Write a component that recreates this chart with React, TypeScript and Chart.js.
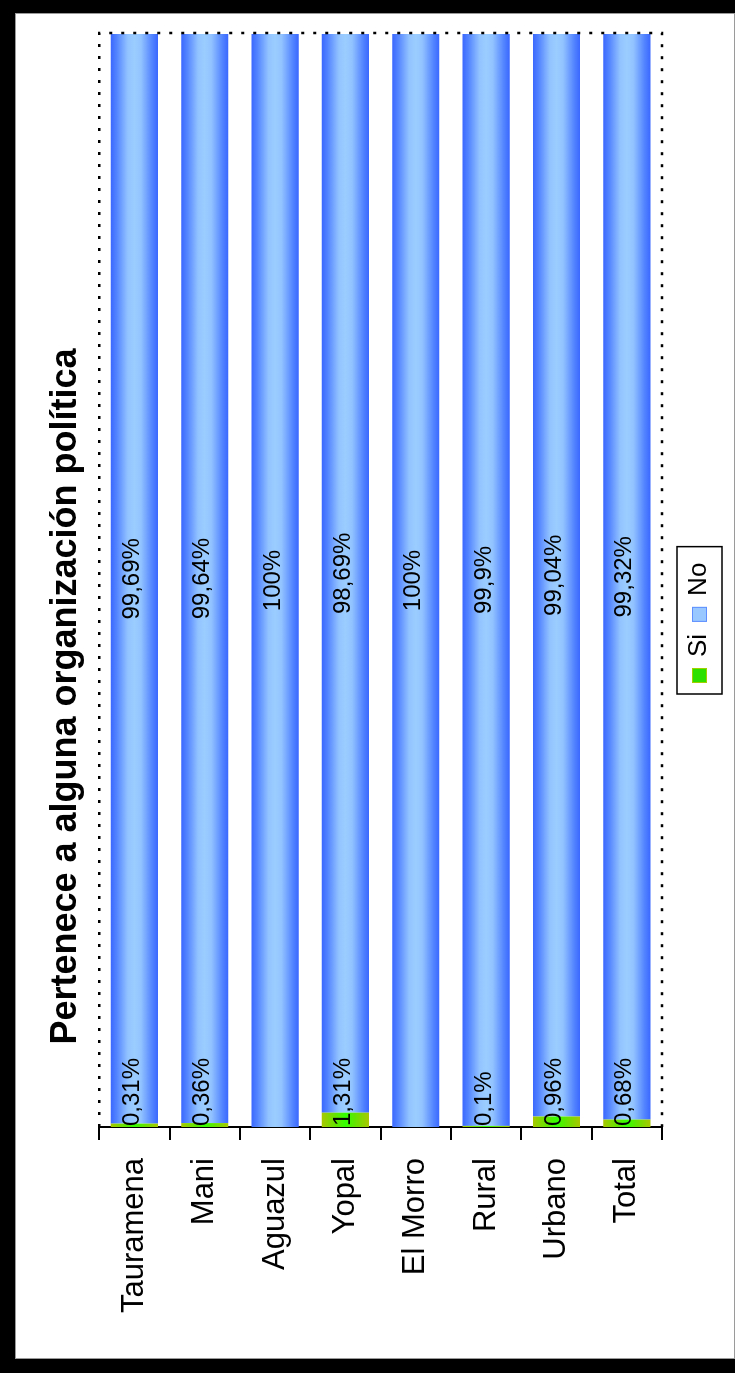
import React, { useEffect, useRef } from 'react';
import { Chart, registerables } from 'chart.js';

Chart.register(...registerables);

const TITLE = 'Pertenece a alguna organización política';
const categories = ['Tauramena', 'Mani', 'Aguazul', 'Yopal', 'El Morro', 'Rural', 'Urbano', 'Total'];
const siValues = [0.31, 0.36, 0, 1.31, 0, 0.1, 0.96, 0.68];
const noValues = [99.69, 99.64, 100, 98.69, 100, 99.9, 99.04, 99.32];
const seriesNames = ['Si', 'No'];

const FONT = '"Liberation Sans", Arial, Helvetica, sans-serif';
const W = 1346; // unrotated width (maps to page height)
const H = 720; // unrotated height (maps to page width)
const BAR_PCT = 0.67;

const BLUE_STOPS: [number, string][] = [
  [0, '#3a68ff'],
  [0.12, '#5283ff'],
  [0.36, '#92c3ff'],
  [0.5, '#9ccdff'],
  [0.64, '#92c3ff'],
  [0.88, '#5283ff'],
  [1, '#3a68ff'],
];
const GREEN_STOPS: [number, string][] = [
  [0, '#a8c800'],
  [0.3, '#62e400'],
  [0.5, '#33ff00'],
  [0.7, '#62e400'],
  [1, '#a8c800'],
];

function gradientFor(stops: [number, string][], fallback: string) {
  return (c: any) => {
    const chart = c.chart;
    const ys = chart.scales && chart.scales.y;
    if (c.type !== 'data' || !ys || !chart.chartArea) return fallback;
    const center = ys.getPixelForValue(c.dataIndex);
    const step = ys.height / categories.length;
    const half = (step * BAR_PCT) / 2;
    const g = chart.ctx.createLinearGradient(0, center - half, 0, center + half);
    stops.forEach(([o, col]) => g.addColorStop(o, col));
    return g;
  };
}

const fmt = (v: number) => String(v).replace('.', ',') + '%';

const valueLabels = {
  id: 'valueLabels',
  afterDatasetsDraw(chart: any) {
    const ctx = chart.ctx;
    ctx.save();
    ctx.font = `24px ${FONT}`;
    ctx.fillStyle = '#000';
    ctx.textBaseline = 'middle';
    chart.data.datasets.forEach((ds: any, di: number) => {
      const meta = chart.getDatasetMeta(di);
      meta.data.forEach((bar: any, i: number) => {
        const v = ds.data[i];
        if (!v) return;
        const { x, y, base } = bar.getProps(['x', 'y', 'base'], true);
        const text = fmt(v);
        if (di === 0) {
          ctx.textAlign = 'left';
          ctx.fillText(text, Math.min(base, x) + 1, y - 2);
        } else {
          ctx.textAlign = 'center';
          ctx.fillText(text, (x + base) / 2, y - 2);
        }
      });
    });
    ctx.restore();
  },
};

const dottedFrame = {
  id: 'dottedFrame',
  afterDatasetsDraw(chart: any) {
    const { left, right, top, bottom } = chart.chartArea;
    const ctx = chart.ctx;
    ctx.save();
    ctx.setLineDash([3, 9]);
    ctx.lineWidth = 2.5;
    ctx.strokeStyle = '#000';
    ctx.beginPath();
    ctx.moveTo(left, top);
    ctx.lineTo(right + 1, top);
    ctx.lineTo(right + 1, bottom);
    ctx.lineTo(left, bottom);
    ctx.stroke();
    ctx.restore();
  },
};

const LEGEND_FILLS = ['#2ee000', '#98c8ff'];
const LEGEND_STROKES = ['#a0d000', '#5f8fff'];

const boxLegend = {
  id: 'boxLegend',
  afterDraw(chart: any, _args: any, opts: any) {
    const ctx = chart.ctx;
    ctx.save();
    ctx.font = `26px ${FONT}`;
    ctx.textBaseline = 'middle';
    ctx.textAlign = 'left';
    const sw = 15;
    const gapSw = 11;
    const gapItem = 12;
    const padL = 11;
    const padR = 16;
    const names = chart.data.datasets.map((d: any) => d.label);
    let total = padL + padR;
    names.forEach((n: string, i: number) => {
      total += sw + gapSw + ctx.measureText(n).width + (i < names.length - 1 ? gapItem : 0);
    });
    const x0 = opts.left;
    const cy = opts.centerY;
    const h = opts.height;
    ctx.lineWidth = 1.5;
    ctx.strokeStyle = '#000';
    ctx.strokeRect(x0, cy - h / 2, total, h);
    let x = x0 + padL;
    names.forEach((n: string, i: number) => {
      ctx.fillStyle = LEGEND_FILLS[i];
      ctx.fillRect(x, cy - sw / 2, sw, sw);
      ctx.lineWidth = 1;
      ctx.strokeStyle = LEGEND_STROKES[i];
      ctx.strokeRect(x + 0.5, cy - sw / 2 + 0.5, sw - 1, sw - 1);
      x += sw + gapSw;
      ctx.fillStyle = '#000';
      ctx.fillText(n, x, cy - 1);
      x += ctx.measureText(n).width + gapItem;
    });
    ctx.restore();
  },
};

function RotatedChart() {
  const ref = useRef<HTMLCanvasElement | null>(null);
  useEffect(() => {
    if (!ref.current) return;
    const chart = new Chart(ref.current, {
      type: 'bar',
      data: {
        labels: categories,
        datasets: [
          {
            label: seriesNames[0],
            data: siValues,
            backgroundColor: gradientFor(GREEN_STOPS, '#33cc00') as any,
            borderWidth: 0,
            barPercentage: BAR_PCT,
            categoryPercentage: 1,
          },
          {
            label: seriesNames[1],
            data: noValues,
            backgroundColor: gradientFor(BLUE_STOPS, '#6699ff') as any,
            borderWidth: 0,
            barPercentage: BAR_PCT,
            categoryPercentage: 1,
          },
        ],
      },
      options: {
        indexAxis: 'y',
        responsive: false,
        animation: false,
        devicePixelRatio: 1,
        layout: { padding: { left: 0, right: 21, top: 0, bottom: 73 } },
        scales: {
          x: { display: false, stacked: true, min: 0, max: 100 },
          y: {
            stacked: true,
            offset: true,
            grid: {
              display: true,
              drawOnChartArea: false,
              drawTicks: true,
              tickLength: 13,
              color: '#000',
              lineWidth: 2,
              offset: true,
            },
            border: { display: true, color: '#000', width: 2 },
            ticks: { color: '#000', font: { family: FONT, size: 31 }, padding: 18, autoSkip: false },
            afterFit: (s: any) => {
              s.width = 232;
            },
          },
        },
        plugins: {
          legend: { display: false },
          tooltip: { enabled: false },
          title: {
            display: true,
            text: TITLE,
            color: '#000',
            font: { family: FONT, size: 36, weight: 'bold', lineHeight: 1.2 },
            padding: { top: 29, bottom: 12 },
          },
          boxLegend: { left: 665, centerY: 684.5, height: 45 },
        } as any,
      },
      plugins: [dottedFrame, valueLabels, boxLegend],
    });
    return () => chart.destroy();
  }, []);
  return <canvas ref={ref} width={W} height={H} style={{ display: 'block', width: W, height: H }} />;
}

export default function App() {
  return (
    <div
      style={{
        position: 'absolute',
        left: 0,
        top: 0,
        width: 735,
        height: 1373,
        overflow: 'hidden',
        background: '#000',
      }}
    >
      <div
        style={{
          position: 'absolute',
          left: 15,
          top: 13,
          width: 720,
          height: 1346,
          boxSizing: 'border-box',
          border: '1px solid #9a9a9a',
          background: '#fff',
        }}
      />
      <div
        style={{
          position: 'absolute',
          left: 15,
          top: 1359,
          width: W,
          height: H,
          transformOrigin: '0 0',
          transform: 'rotate(-90deg)',
        }}
      >
        <RotatedChart />
      </div>
    </div>
  );
}
